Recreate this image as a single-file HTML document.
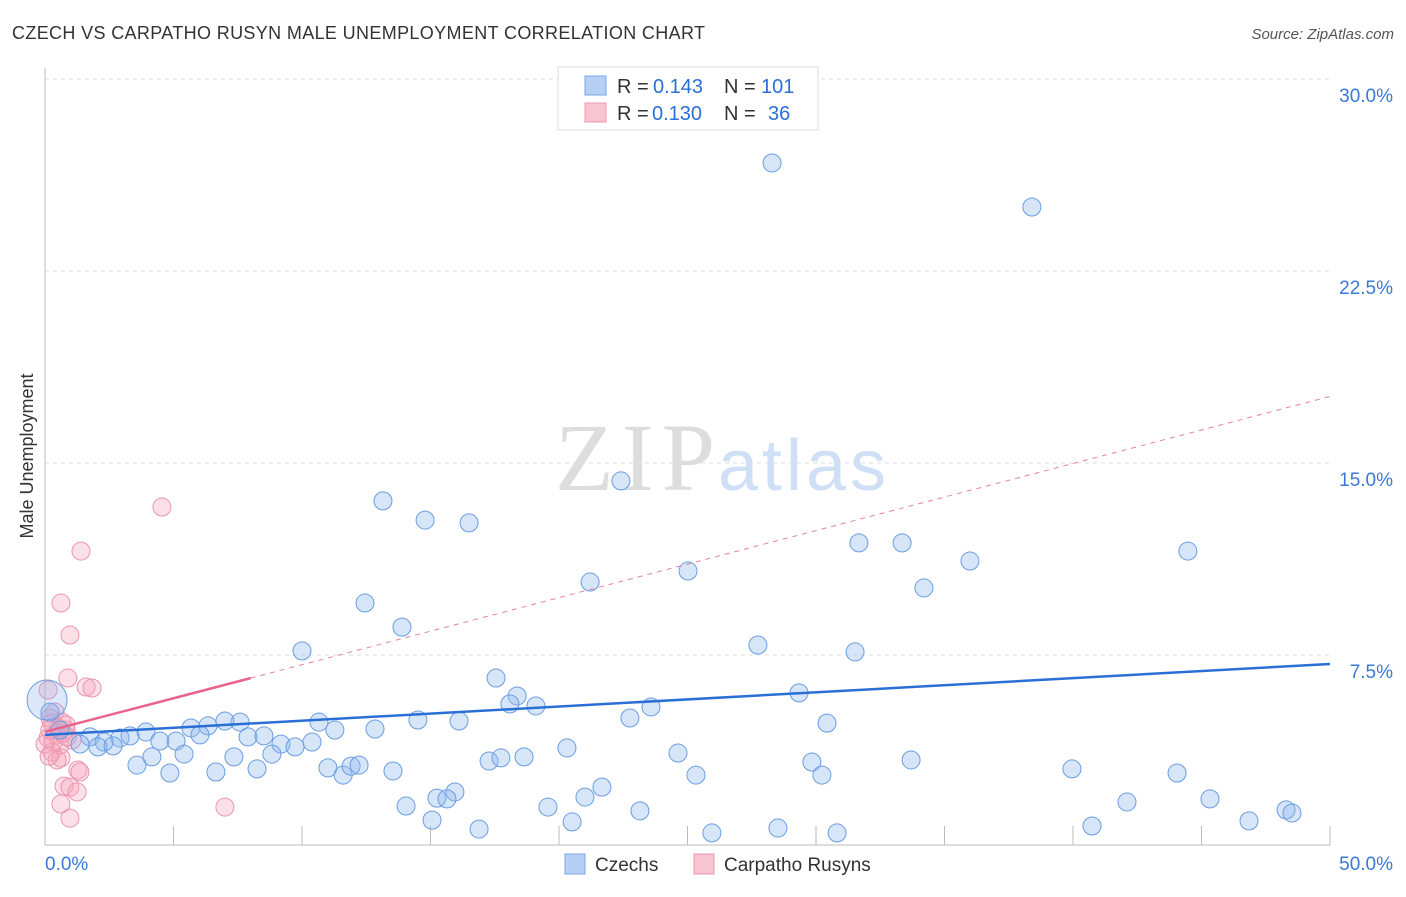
<!DOCTYPE html>
<html><head><meta charset="utf-8"><style>
body{margin:0;background:#fff;font-family:"Liberation Sans",sans-serif;}
</style></head><body>
<svg width="1406" height="892" xmlns="http://www.w3.org/2000/svg" font-family="Liberation Sans, sans-serif">
<text x="12" y="39" font-size="18" fill="#333" textLength="693">CZECH VS CARPATHO RUSYN MALE UNEMPLOYMENT CORRELATION CHART</text>
<text x="1394" y="39" font-size="15" fill="#555" font-style="italic" text-anchor="end">Source: ZipAtlas.com</text>
<text x="0" y="0" font-size="18" fill="#333" transform="translate(33,456) rotate(-90)" text-anchor="middle">Male Unemployment</text>
<text x="555" y="490" font-size="96" fill="#ddd" font-family="Liberation Serif, serif" textLength="160">ZIP</text>
<text x="718" y="490" font-size="72" fill="#cfdff5" textLength="168">atlas</text>
<g id="grid"></g><g id="axes"></g><g id="pts"></g><g id="trend"></g>
<g>
<rect x="558" y="67" width="260" height="63" fill="#fff" stroke="#ddd"/>
<rect x="585" y="76" width="21" height="19" fill="#b5cff5" stroke="#7aa5e5"/>
<rect x="585" y="103" width="21" height="19" fill="#f8c4d2" stroke="#ec9ab1"/>
<text x="617" y="93" font-size="20" fill="#333">R =</text>
<text x="653" y="93" font-size="20" fill="#2a6fd6">0.143</text>
<text x="724" y="93" font-size="20" fill="#333">N =</text>
<text x="761" y="93" font-size="20" fill="#2a6fd6">101</text>
<text x="617" y="120" font-size="20" fill="#333">R =</text>
<text x="652" y="120" font-size="20" fill="#2a6fd6">0.130</text>
<text x="724" y="120" font-size="20" fill="#333">N =</text>
<text x="768" y="120" font-size="20" fill="#2a6fd6">36</text>
</g>
<g>
<rect x="565" y="854" width="20" height="20" fill="#b5cff5" stroke="#7aa5e5"/>
<text x="595" y="871" font-size="19" fill="#333">Czechs</text>
<rect x="694" y="854" width="20" height="20" fill="#f8c4d2" stroke="#ec9ab1"/>
<text x="724" y="871" font-size="19" fill="#333">Carpatho Rusyns</text>
</g>
</svg>
<script>
const yTicks=[30,22.5,15,7.5];
const yTickLabels=["30.0%","22.5%","15.0%","7.5%"];
const xTickLabels=["0.0%","50.0%"];
const czechX=[28.29,38.4,22.41,13.15,14.79,16.5,31.67,33.35,44.47,35.99,21.21,25.02,34.2,12.45,13.89,27.74,31.52,10.0,17.55,18.37,18.09,19.1,29.34,22.76,23.58,30.43,16.11,14.51,12.84,10.66,11.28,7.59,7.0,6.34,5.68,6.03,3.93,2.92,3.31,1.75,2.3,2.06,2.65,1.36,0.58,0.19,4.47,5.1,7.9,8.52,9.18,9.73,10.39,8.83,7.35,5.41,4.16,3.58,4.86,6.65,8.25,11.01,11.6,11.91,12.22,13.54,17.28,17.74,18.64,20.31,24.63,25.33,29.84,30.23,33.7,39.96,44.05,21.67,21.01,15.95,15.25,15.64,14.05,19.57,23.15,42.1,45.33,48.29,48.52,46.85,15.06,20.51,16.89,25.95,28.52,30.82,40.74];
const czechY=[26.72,25.0,14.3,13.52,12.77,12.66,11.88,11.88,11.56,11.17,10.35,10.78,10.12,9.53,8.59,7.89,7.62,7.66,6.6,5.9,5.59,5.51,6.02,5.04,5.47,4.84,4.92,4.96,4.61,4.88,4.57,4.88,4.92,4.73,4.65,4.38,4.49,4.26,4.34,4.3,4.1,3.91,3.95,4.02,4.57,5.27,4.14,4.14,4.3,4.34,4.02,3.91,4.1,3.63,3.52,3.63,3.52,3.2,2.89,2.93,3.05,3.09,2.81,3.16,3.2,2.97,3.36,3.48,3.52,3.87,3.67,2.81,3.32,2.81,3.4,3.05,2.89,2.34,1.95,2.15,1.91,1.88,1.6,1.56,1.41,1.76,1.88,1.45,1.33,1.02,1.05,0.98,0.7,0.55,0.74,0.55,0.82];
const rusynX=[4.55,1.4,0.62,0.97,0.89,1.6,1.83,0.12,0.39,0.66,0.27,0.82,0.43,0.12,1.05,0.58,0.27,0.62,1.28,1.36,0.74,0.97,1.25,0.62,7.0,0.97,0.19,0.51,0.31,0.7,0.86,0.19,0,0.82,0.47,0.16];
const rusynY=[13.28,11.56,9.53,8.28,6.6,6.25,6.21,6.13,5.27,4.88,4.84,4.57,4.38,4.26,4.18,3.98,3.71,3.48,3.01,2.93,2.38,2.34,2.15,1.68,1.56,1.13,5.04,4.65,4.1,4.45,4.3,4.57,4.02,4.77,3.4,3.55];
const czechTrend=[4.38,7.15];
const rusynTrend=[4.5,0.262];
const NS="http://www.w3.org/2000/svg";
const X=v=>45+v*25.7, Y=v=>847-v*25.6;
function mk(t,a,p){const e=document.createElementNS(NS,t);for(const k in a)e.setAttribute(k,a[k]);p.appendChild(e);return e;}
const grid=document.getElementById('grid'),axes=document.getElementById('axes'),pts=document.getElementById('pts'),tr=document.getElementById('trend');
yTicks.forEach((t,i)=>{
 const l=mk('line',{x1:45,x2:1330,y1:Y(t),y2:Y(t),stroke:'#ddd','stroke-dasharray':'4,4'},grid);
 
 
 const tx=mk('text',{x:1393,y:Y(t)+23,'font-size':19,fill:'#3b78d8','text-anchor':'end'},axes);
 tx.textContent=yTickLabels[i];
 
 
});
mk('line',{x1:45,x2:45,y1:68,y2:845,stroke:'#bbb'},axes);
mk('line',{x1:45,x2:1330,y1:845,y2:845,stroke:'#bbb'},axes);
for(let i=1;i<=10;i++){mk('line',{x1:X(i*5),x2:X(i*5),y1:826,y2:845,stroke:'#bbb'},axes);}
[[0,45,'start'],[50,1393,'end']].forEach((d,i)=>{const t=mk('text',{x:d[1],y:870,'font-size':19,fill:'#3b78d8','text-anchor':d[2]},axes);t.textContent=xTickLabels[i];
 
 });
rusynX.forEach((x,i)=>{const c=mk('circle',{cx:X(x),cy:Y(rusynY[i]),r:9,fill:'rgba(245,165,188,0.35)',stroke:'#eb94ad','stroke-width':1},pts);
 
 });
czechX.forEach((x,i)=>{const c=mk('circle',{cx:X(x),cy:Y(czechY[i]),r:9,fill:'rgba(140,180,238,0.35)',stroke:'#6a9de3','stroke-width':1},pts);
 
 });
const big=mk('circle',{cx:X(0.08),cy:Y(5.74),r:20,fill:'rgba(140,180,238,0.3)',stroke:'#6a9de3'},pts);


const cl=mk('line',{x1:X(0),y1:Y(czechTrend[0]),x2:X(50),y2:Y(czechTrend[1]),stroke:'#2a6fd6','stroke-width':2.5},tr);


const rl=mk('line',{x1:X(0),y1:Y(rusynTrend[0]),x2:X(8),y2:Y(rusynTrend[0]+8*rusynTrend[1]),stroke:'#e8648c','stroke-width':2.5},tr);


const rd=mk('line',{x1:X(8),y1:Y(rusynTrend[0]+8*rusynTrend[1]),x2:X(50),y2:Y(rusynTrend[0]+50*rusynTrend[1]),stroke:'#e8809f','stroke-width':1,'stroke-dasharray':'5,5'},tr);


</script>
</body></html>
